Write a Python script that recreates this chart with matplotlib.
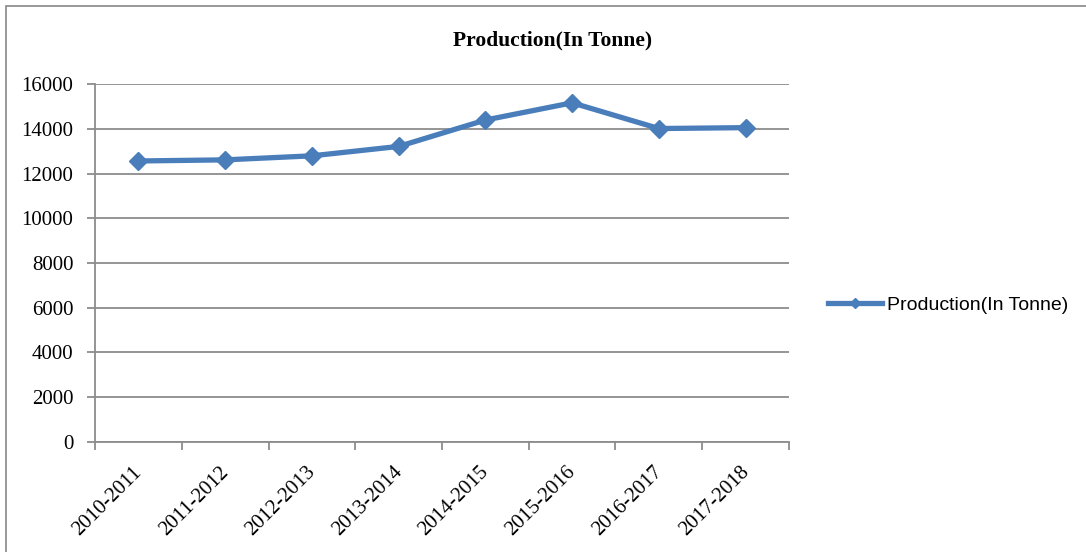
import numpy as np
import matplotlib
matplotlib.use("Agg")
import matplotlib.pyplot as plt
from matplotlib.patches import Rectangle
from matplotlib.lines import Line2D
from matplotlib.transforms import ScaledTranslation

# datos
years = ["2010-2011", "2011-2012", "2012-2013", "2013-2014",
         "2014-2015", "2015-2016", "2016-2017", "2017-2018"]
production = [12560, 12610, 12790, 13210, 14390, 15160, 14010, 14050]
yticks = [0, 2000, 4000, 6000, 8000, 10000, 12000, 14000, 16000]

line_color = "#4a7ebb"
grid_color = "#8c8c8c"
serif = ["Liberation Serif", "DejaVu Serif"]

fig = plt.figure(figsize=(10.86, 5.52), dpi=100)
ax = fig.add_axes([0.0875, 0.1993, 0.639, 0.6485])

x = np.arange(len(years))
ax.plot(x, production, color=line_color, lw=3.8, marker="D", markersize=8.8,
        markeredgecolor=line_color, markerfacecolor=line_color, zorder=3,
        solid_joinstyle="round")

ax.set_xlim(-0.5, len(years) - 0.5)
ax.set_ylim(0, 16000)
ax.set_yticks(yticks)
ax.set_yticklabels([str(v) for v in yticks], fontfamily=serif, fontsize=15)
ax.yaxis.grid(True, color=grid_color, lw=1.3)
ax.set_axisbelow(True)

# ticks entre categorias, etiquetas al centro
ax.set_xticks(np.arange(len(years) + 1) - 0.5)
ax.set_xticklabels([])
ax.set_xticks(x, minor=True)
ax.set_xticklabels(years, minor=True, rotation=45, ha="right", va="top",
                   rotation_mode="anchor", fontfamily=serif, fontsize=15)
ax.tick_params(axis="x", which="minor", length=0, pad=15)
ax.tick_params(axis="x", which="major", length=6, color=grid_color, width=1.3,
               direction="out")
ax.tick_params(axis="y", length=6, color=grid_color, width=1.3, direction="out",
               pad=9.5)

# desplazar un poco las etiquetas a la izquierda
shift = ScaledTranslation(-0.06, 0, fig.dpi_scale_trans)
for lbl in ax.get_xticklabels(minor=True):
    lbl.set_transform(lbl.get_transform() + shift)

for s in ["top", "right"]:
    ax.spines[s].set_visible(False)
for s in ["left", "bottom"]:
    ax.spines[s].set_color(grid_color)
    ax.spines[s].set_linewidth(1.3)

fig.text(0.509, 0.9275, "Production(In Tonne)", ha="center", va="center",
         fontfamily=serif, fontweight="bold", fontsize=15.5)

handle = Line2D([], [], color=line_color, lw=3.8, marker="D", markersize=5)
fig.legend([handle], ["Production(In Tonne)"], loc="center left",
           bbox_to_anchor=(0.762, 0.4475), frameon=False, handlelength=2.8,
           handletextpad=0.25, borderpad=0, borderaxespad=0,
           prop={"family": ["Liberation Sans", "DejaVu Sans"], "size": 14})

fig.add_artist(Rectangle((0.0055, -0.1), 1.2, 1.0891, transform=fig.transFigure,
                         fill=False, edgecolor="#888888", lw=1.2))

fig.savefig("out.png", dpi=100)
